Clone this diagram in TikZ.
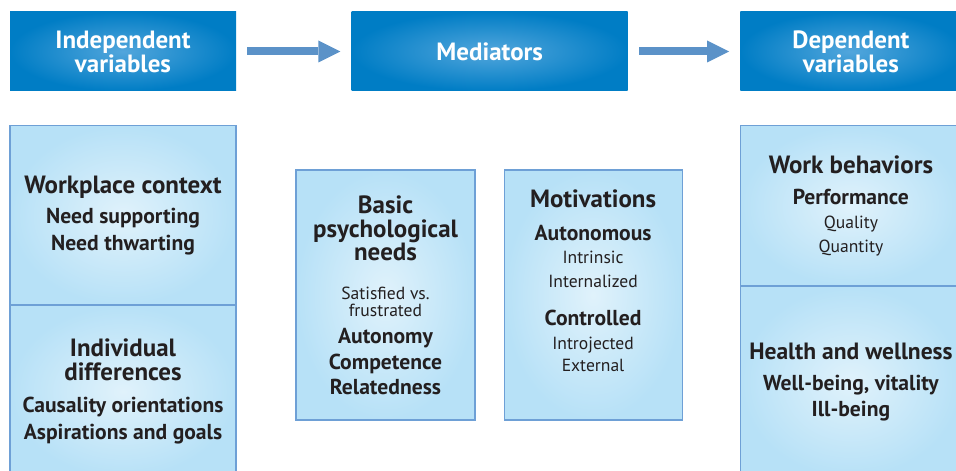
\documentclass[tikz,border=0pt]{standalone}
\usepackage{fontspec}
\setmainfont{PT Sans}
\setsansfont{PT Sans}
\usetikzlibrary{arrows.meta, positioning}
\definecolor{headouter}{RGB}{0,125,197}
\definecolor{headinner}{RGB}{82,166,220}
\definecolor{boxouter}{RGB}{183,225,247}
\definecolor{boxinner}{RGB}{224,242,251}
\definecolor{boxline}{RGB}{110,160,214}
\definecolor{arrowblue}{RGB}{91,146,200}
\definecolor{inktext}{RGB}{35,31,32}
\newcommand{\boxtitle}[1]{{\fontsize{14.2}{13.6}\selectfont\bfseries #1}}
\newcommand{\boxsub}[1]{{\fontsize{12.3}{13.6}\selectfont\bfseries #1}}
\newcommand{\boxnote}[1]{{\fontsize{10}{10}\selectfont #1}}
\tikzset{
    headbox/.style={
        rectangle, inner color=headinner, outer color=headouter,
        text=white, align=center, minimum height=1.58cm, inner sep=2pt,
        font=\fontsize{14.2}{13.6}\selectfont\bfseries
    },
    itembox/.style={
        rectangle, draw=boxline, line width=0.6pt,
        inner color=boxinner, outer color=boxouter,
        text=inktext, align=center, inner sep=1pt,
        font=\fontsize{12.3}{13.6}\selectfont
    },
    flowarrow/.style={
        draw=arrowblue, line width=1.6mm,
        -{Triangle[length=4.4mm, width=4.4mm, line width=0pt]},
        shorten <=2.2mm, shorten >=2.2mm
    }
}
\begin{document}
\begin{tikzpicture}

\useasboundingbox (0,0) rectangle (19.12,-9.42);

% Header row
\node[headbox, minimum width=4.52cm] (indep) at (2.46,-1.03) {Independent\\variables};
\node[headbox, minimum width=5.52cm, right=2.3cm of indep] (medi) {Mediators};
\node[headbox, minimum width=4.42cm, right=2.24cm of medi] (dep) {Dependent\\variables};

% Arrows between headers
\draw[flowarrow] (indep) -- (medi);
\draw[flowarrow] (medi) -- (dep);

% Independent variables
\node[itembox, minimum width=4.52cm, minimum height=3.58cm, below=0.68cm of indep] (workctx)
    {\boxtitle{Workplace context}\\[3.4pt]\boxsub{Need supporting}\\[1.7pt]\boxsub{Need thwarting}};
\node[itembox, minimum width=4.52cm, minimum height=3.42cm, below=0pt of workctx] (indiv)
    {\boxtitle{Individual}\\\boxtitle{differences}\\[4.5pt]\boxsub{Causality orientations}\\[1.7pt]\boxsub{Aspirations and goals}};

% Mediators
\node[itembox, minimum width=3.58cm, minimum height=5cm] (needs) at (7.71,-5.9)
    {\boxtitle{Basic}\\\boxtitle{psychological}\\\boxtitle{needs}\\[8.5pt]\boxnote{Satisfied vs.}\\[-4pt]\boxnote{frustrated}\\[1.7pt]\boxsub{Autonomy}\\[1.1pt]\boxsub{Competence}\\[0.6pt]\boxsub{Relatedness}};
\node[itembox, minimum width=3.56cm, minimum height=5cm, right=0.56cm of needs, text depth=16pt] (motiv)
    {\boxtitle{Motivations}\\[5.1pt]\boxsub{Autonomous}\\[-0.6pt]\boxnote{Intrinsic}\\\boxnote{Internalized}\\[7.9pt]\boxsub{Controlled}\\\boxnote{Introjected}\\[-0.6pt]\boxnote{External}};

% Dependent variables
\node[itembox, minimum width=4.42cm, minimum height=3.2cm, below=0.68cm of dep] (workbeh)
    {\boxtitle{Work behaviors}\\[4.5pt]\boxsub{Performance}\\\boxnote{Quality}\\\boxnote{Quantity}};
\node[itembox, minimum width=4.42cm, minimum height=3.8cm, below=0pt of workbeh] (health)
    {{\fontsize{13.4}{13.6}\selectfont\bfseries Health and wellness}\\[4.5pt]\boxsub{Well-being, vitality}\\[1.1pt]\boxsub{Ill-being}};

\end{tikzpicture}
\end{document}
